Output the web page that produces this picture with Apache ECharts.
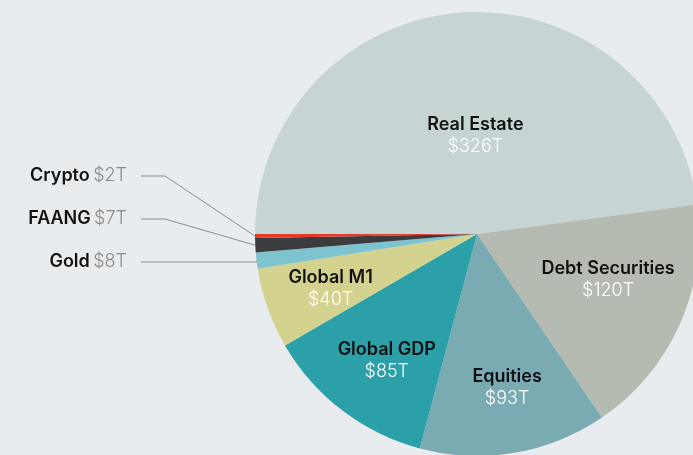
<!DOCTYPE html>
<html>
<head>
<meta charset="utf-8">
<script src="https://cdn.jsdelivr.net/npm/echarts@6/dist/echarts.min.js"></script>
<style>
  html, body { margin: 0; padding: 0; background: #e8ecef; }
  #main { width: 693px; height: 455px; }
</style>
</head>
<body>
<div id="main"></div>
<script>
  // values in trillions of USD
  const categories = ['Real Estate', 'Debt Securities', 'Equities', 'Global GDP', 'Global M1', 'Gold', 'FAANG', 'Crypto']
  const values = [326, 120, 93, 85, 40, 8, 7, 2]
  const valueLabels = ['$326T', '$120T', '$93T', '$85T', '$40T', '$8T', '$7T', '$2T']

  const colors = ['#c6d4d4', '#b6bbb1', '#7aabb3', '#2ba0a8', '#d3d38f', '#7ec4d0', '#3c3c3e', '#e8392b']
  // nudge of the inside labels from their default spot
  const nudge = [[6, 15], [27, -1], [11, 41], [-21, 36], [-39, 16]]
  // y of the outside labels on the left
  const outsideY = { 5: 262, 6: 219, 7: 176 }

  const chart = echarts.init(document.getElementById('main'))

  const data = categories.map(function (name, i) {
    const item = { name: name, value: values[i], itemStyle: { color: colors[i] } }
    if (i < 5) {
      item.label = {
        position: 'inside',
        formatter: '{n|' + name + '}\n{v|' + valueLabels[i] + '}'
      }
      item.labelLine = { show: false }
    } else {
      item.label = {
        position: 'outside',
        formatter: '{n|' + name + '} {g|' + valueLabels[i] + '}'
      }
      item.labelLine = { show: true, length: 10, length2: 10 }
    }
    return item
  })

  const option = {
    backgroundColor: '#e8ecef',
    animation: false,
    series: [{
      type: 'pie',
      center: [477, 234],
      radius: [0, 222],
      startAngle: 180,
      clockwise: true,
      avoidLabelOverlap: false,
      data: data,
      label: {
        show: true,
        fontFamily: 'Inter',
        lineHeight: 22,
        rich: {
          n: { fontFamily: 'Inter', fontSize: 18, fontWeight: 600, color: '#111111', lineHeight: 22 },
          v: { fontFamily: 'Inter', fontSize: 18, fontWeight: 300, color: '#ffffff', lineHeight: 22 },
          g: { fontFamily: 'Inter', fontSize: 18, fontWeight: 300, color: '#8a8a8a' }
        }
      },
      labelLine: {
        lineStyle: { color: '#8c8c8c', width: 1 }
      },
      labelLayout: function (p) {
        const i = p.dataIndex
        if (i < 5) {
          return { dx: nudge[i][0], dy: nudge[i][1] }
        }
        const y = outsideY[i]
        const start = p.labelLinePoints ? p.labelLinePoints[0] : [257, y]
        const lineEnd = i === 5 ? [start[0], y] : [165, y]
        return {
          x: 127,
          y: y,
          align: 'right',
          verticalAlign: 'middle',
          labelLinePoints: [start, lineEnd, [141, y]]
        }
      }
    }]
  }

  chart.setOption(option)
</script>
</body>
</html>
